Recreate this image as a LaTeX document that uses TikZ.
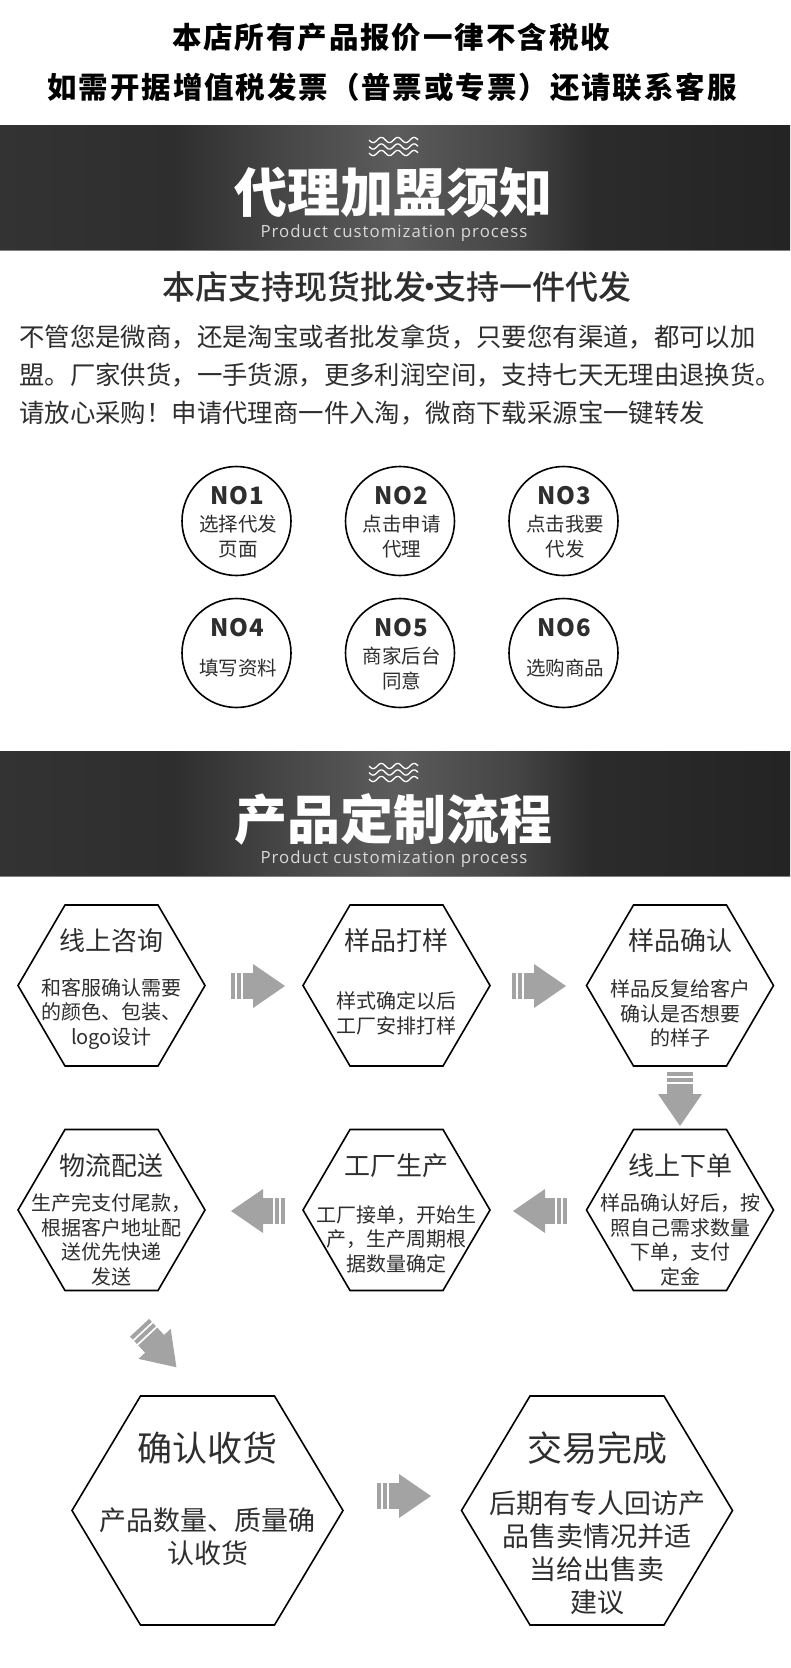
\documentclass[tikz,border=0pt]{standalone}
\usepackage{fontspec}
\usepackage{tikz}
\setmainfont{Noto Sans CJK SC}
\newfontfamily\latinfont[LetterSpace=6]{Open Sans}
\newfontfamily\heavyfont{Noto Sans CJK SC Black}
\newfontfamily\mediumfont{Noto Sans CJK SC Medium}
\usetikzlibrary{arrows,positioning}
\definecolor{inkgray}{HTML}{2E2E2E}
\definecolor{flowgray}{HTML}{A3A3A3}
\pgfdeclarehorizontalshading{bandglow}{100bp}{
  rgb(0bp)=(0.2,0.2,0.2); rgb(25bp)=(0.2,0.2,0.2); rgb(36bp)=(0.18,0.18,0.18);
  rgb(42.5bp)=(0.27,0.27,0.27); rgb(50bp)=(0.36,0.36,0.36); rgb(57.5bp)=(0.27,0.27,0.27);
  rgb(62.5bp)=(0.17,0.17,0.17); rgb(75bp)=(0.14,0.14,0.14); rgb(100bp)=(0.14,0.14,0.14)}
\tikzset{
  headline/.style={font=\bfseries\fontsize{29.5}{29.5}\selectfont\addfontfeature{LetterSpace=6.5},text=black,inner sep=0pt},
  bandtitle/.style={font=\heavyfont\fontsize{53}{53}\selectfont,text=white,inner sep=0pt},
  bandsub/.style={font=\latinfont\fontsize{16.8}{16.8}\selectfont,text=white!85!black,inner sep=0pt},
  paraline/.style={font=\fontsize{25.4}{25.4}\selectfont,text=inkgray,inner sep=0pt,anchor=west},
  nocircle/.style={circle,draw=black,line width=1.6pt,minimum size=109pt,inner sep=0pt},
  hexline/.style={draw=black,line width=1.6pt},
  smalltitle/.style={font=\fontsize{26}{26}\selectfont,text=inkgray,inner sep=0pt},
  smallbody/.style={font=\fontsize{20}{24.5}\selectfont,text=inkgray,inner sep=0pt,align=center},
  bigtitle/.style={font=\fontsize{35}{35}\selectfont,text=inkgray,inner sep=0pt},
  bigbody/.style={font=\fontsize{27}{33}\selectfont,text=inkgray,inner sep=0pt,align=center},
  waveline/.style={draw=white,line width=1.3pt},
  flowarrow/.pic={
    \fill[flowgray] (-27,-13) rectangle (-23,13);
    \fill[flowgray] (-21,-13) rectangle (-17,13);
    \fill[flowgray] (-15,-13) rectangle (-4,13);
    \fill[flowgray] (-5,-22)--(27,0)--(-5,22)--cycle;
  }
}
\begin{document}
\begin{tikzpicture}[x=1pt,y=-1pt]
\useasboundingbox (0,0) rectangle (790,1668);
\fill[white] (0,0) rectangle (790,1668);
%%%%% Top lines %%%%%
\node[headline] (topa) at (391,37) {本店所有产品报价一律不含税收};
\node[headline] (topb) at (392,87) {如需开据增值税发票（普票或专票）还请联系客服};
%%%%% Bands %%%%%
\foreach \y/\name/\txt in {125/banda/代理加盟须知,751/bandb/产品定制流程}{
  \shade[shading=bandglow] (0,\y) rectangle (790,\y+125);
  \draw[gray,line width=1pt] (0,\y+125)--(790,\y+125);
  \foreach \k in {0,6.5,13}{
    \draw[waveline] plot[smooth,variable=\t,domain=0:49,samples=50] ({369+\t},{\y+15+\k+2.6*sin(\t*21.95)});
  }
  \node[bandtitle] (\name) at (393,\y+68) {\txt};
  \node[bandsub] (\name sub) at (394,\y+108) {Product customization process};
}
%%%%% Intro %%%%%
\node[font=\mediumfont\fontsize{33}{33}\selectfont,text=inkgray,inner sep=0pt] (lead) at (397,287) {本店支持现货批发\kern-12.7pt·\kern-12.7pt支持一件代发};
\node[paraline] (paraa) at (19,337) {不管您是微商，还是淘宝或者批发拿货，只要您有渠道，都可以加};
\node[paraline] (parab) at (19,375) {盟。厂家供货，一手货源，更多利润空间，支持七天无理由退换货。};
\node[paraline] (parac) at (19,413) {请放心采购！申请代理商一件入淘，微商下载采源宝一键转发};
%%%%% Circles %%%%%
\foreach \x/\y/\n/\txt in {236.5/521/1/选择代发\\页面,400/521/2/点击申请\\代理,563.5/521/3/点击我要\\代发,236.5/653/4/填写资料,400/653/5/商家后台\\同意,563.5/653/6/选购商品}{
  \node[nocircle] (circ\n) at (\x,\y) {};
  \node[font=\bfseries\fontsize{24}{24}\selectfont\addfontfeature{LetterSpace=4},text=inkgray,inner sep=0pt] (circ\n no) at (\x+1,\y-25.5) {NO\n};
  \node[font=\fontsize{19.5}{25}\selectfont,text=inkgray,inner sep=0pt,align=center] (circ\n txt) at (\x+1.5,\y+15.5) {\txt};
}
%%%%% Hexagons %%%%%
\foreach \x/\y/\n/\ttl/\txt/\dy in {
  111.5/985.5/1/线上咨询/和客服确认需要\\的颜色、包装、\\logo设计/28,
  396.5/985.5/2/样品打样/样式确定以后\\工厂安排打样/28,
  680/985.5/3/样品确认/样品反复给客户\\确认是否想要\\的样子/28,
  680/1210/4/线上下单/样品确认好后，按\\照自己需求数量\\下单，支付\\定金/30,
  396.5/1210/5/工厂生产/工厂接单，开始生\\产，生产周期根\\据数量确定/29,
  111.5/1210/6/物流配送/生产完支付尾款，\\根据客户地址配\\送优先快递\\发送/30}{
  \draw[hexline] (\x-93.5,\y)--(\x-46.5,\y-80.5)--(\x+46.5,\y-80.5)--(\x+93.5,\y)--(\x+46.5,\y+80.5)--(\x-46.5,\y+80.5)--cycle;
  \node[smalltitle] (hex\n title) at (\x,\y-44.5) {\ttl};
  \node[smallbody] (hex\n body) at (\x,\y+\dy) {\txt};
}
\foreach \x/\n/\ttl in {207.5/7/确认收货,597/8/交易完成}{
  \draw[hexline] (\x-135.5,1510.5)--(\x-67,1396)--(\x+67,1396)--(\x+135.5,1510.5)--(\x+67,1625)--(\x-67,1625)--cycle;
  \node[bigtitle] (hex\n title) at (\x,1448) {\ttl};
}
\node[bigbody,anchor=north] (hex7body) at (207.5,1507.5) {产品数量、质量确\\认收货};
\node[bigbody,anchor=north] (hex8body) at (597,1491) {后期有专人回访产\\品售卖情况并适\\当给出售卖\\建议};
%%%%% Arrows %%%%%
\pic at (258,986) {flowarrow};
\pic at (539,986) {flowarrow};
\pic[rotate=-90] at (680,1099) {flowarrow};
\pic[rotate=180] at (540,1211) {flowarrow};
\pic[rotate=180] at (258,1211) {flowarrow};
\pic[rotate=-47] at (158,1347.5) {flowarrow};
\pic at (404,1496) {flowarrow};
\end{tikzpicture}
\end{document}
